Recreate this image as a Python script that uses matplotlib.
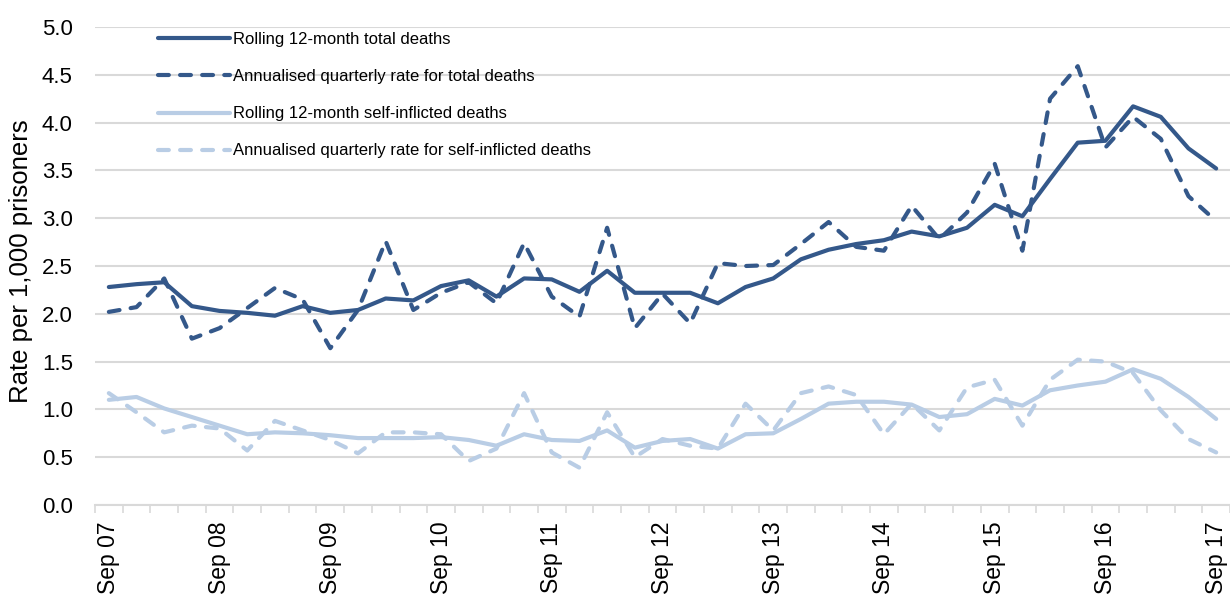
import matplotlib
matplotlib.use("Agg")
import matplotlib.pyplot as plt
import numpy as np

plt.rcParams['font.family'] = ['Liberation Sans', 'DejaVu Sans']

years = ["07", "08", "09", "10", "11", "12", "13", "14", "15", "16", "17"]
tick_labels = ["Sep " + y for y in years]

# quarterly values, Sep 07 .. Sep 17
rolling_total = [2.28, 2.31, 2.33, 2.08, 2.03, 2.01, 1.98, 2.08, 2.01, 2.04,
                 2.16, 2.14, 2.29, 2.35, 2.18, 2.37, 2.36, 2.23, 2.45, 2.22,
                 2.22, 2.22, 2.11, 2.28, 2.37, 2.57, 2.67, 2.73, 2.77, 2.86,
                 2.81, 2.90, 3.14, 3.02, 3.41, 3.79, 3.81, 4.17, 4.06, 3.73,
                 3.52]
quarterly_total = [2.02, 2.07, 2.37, 1.74, 1.85, 2.06, 2.27, 2.15, 1.64, 2.04,
                   2.76, 2.04, 2.22, 2.33, 2.11, 2.74, 2.18, 1.97, 2.90, 1.85,
                   2.21, 1.90, 2.53, 2.50, 2.51, 2.73, 2.96, 2.70, 2.66, 3.13,
                   2.78, 3.06, 3.57, 2.66, 4.25, 4.59, 3.74, 4.06, 3.83, 3.23,
                   2.97]
rolling_self = [1.10, 1.13, 1.01, 0.92, 0.83, 0.74, 0.76, 0.75, 0.73, 0.70,
                0.70, 0.70, 0.71, 0.68, 0.62, 0.74, 0.68, 0.67, 0.78, 0.60,
                0.67, 0.69, 0.59, 0.74, 0.75, 0.90, 1.06, 1.08, 1.08, 1.05,
                0.92, 0.95, 1.11, 1.04, 1.20, 1.25, 1.29, 1.42, 1.32, 1.13,
                0.90]
quarterly_self = [1.17, 0.97, 0.76, 0.83, 0.80, 0.57, 0.88, 0.78, 0.68, 0.54,
                  0.76, 0.76, 0.74, 0.46, 0.59, 1.17, 0.55, 0.39, 0.97, 0.50,
                  0.69, 0.62, 0.59, 1.06, 0.78, 1.17, 1.24, 1.15, 0.74, 1.06,
                  0.78, 1.23, 1.31, 0.83, 1.31, 1.52, 1.50, 1.38, 0.99, 0.69,
                  0.55]

dark = "#34588A"
light = "#B9CDE5"
grid_col = "#D9D9D9"

x = np.arange(len(rolling_total))

fig = plt.figure(figsize=(12.3, 5.94), dpi=100)
ax = fig.add_axes([95 / 1230, 1 - 505 / 594, 1 - 95 / 1230, (505 - 27) / 594])

lw = 3.0
dash = (2.6, 2.7)
ax.plot(x, rolling_total, color=dark, lw=lw, solid_capstyle='round',
        solid_joinstyle='round', label="Rolling 12-month total deaths")
ax.plot(x, quarterly_total, color=dark, lw=lw, dashes=dash, dash_capstyle='round',
        dash_joinstyle='round', label="Annualised quarterly rate for total deaths")
ax.plot(x, rolling_self, color=light, lw=lw, solid_capstyle='round',
        solid_joinstyle='round', label="Rolling 12-month self-inflicted deaths")
ax.plot(x, quarterly_self, color=light, lw=lw, dashes=dash, dash_capstyle='round',
        dash_joinstyle='round', label="Annualised quarterly rate for self-inflicted deaths")

ax.set_ylim(0, 5.0)
ax.set_xlim(-0.5, 40.18)
yt = np.arange(0, 5.01, 0.5)
ax.set_yticks(yt)
ax.set_yticklabels(["%.1f" % v for v in yt], fontsize=16)
ax.yaxis.grid(True, color=grid_col, lw=1.5)
ax.set_axisbelow(True)
ax.tick_params(axis='y', length=0, pad=16)

ax.set_xticks(x[::4])
ax.set_xticklabels(tick_labels, rotation=90, fontsize=16.5)
ax.set_xticks(np.arange(-0.5, 41, 1), minor=True)
ax.tick_params(axis='x', which='major', length=0, pad=12)
ax.tick_params(axis='x', which='minor', length=6, color=grid_col, width=1.2)

for s in ["top", "right", "left"]:
    ax.spines[s].set_visible(False)
ax.spines["bottom"].set_color(grid_col)
ax.spines["bottom"].set_linewidth(1.5)

ax.set_ylabel("Rate per 1,000 prisoners", fontsize=18.5)
ax.yaxis.set_label_coords((33 - 95) / 1135, 0.51)

leg = ax.legend(loc="upper left", bbox_to_anchor=(158 / 1230, 1 - 32 / 594),
                bbox_transform=fig.transFigure, frameon=False,
                fontsize=12, handlelength=4.3, handletextpad=0.2,
                labelspacing=1.33, borderpad=0, borderaxespad=0)

fig.savefig("out.png", dpi=100)
